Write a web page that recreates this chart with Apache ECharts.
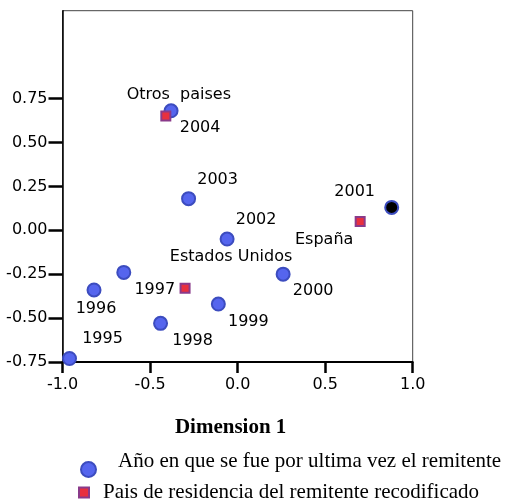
<!DOCTYPE html>
<html>
<head>
<meta charset="utf-8">
<script src="https://cdn.jsdelivr.net/npm/echarts@6/dist/echarts.min.js"></script>
<style>html,body{margin:0;padding:0;background:#fff}#c{width:514px;height:503px}</style>
</head>
<body>
<div id="c"></div>
<script>
// ---- data ----
const yearNames = ['1995','1996','1997','1998','1999','2000','2001','2002','2003','2004'];
const yearDim1  = [-0.96, -0.82, -0.65, -0.44, -0.11, 0.26, 0.88, -0.06, -0.28, -0.38];
const yearDim2  = [-0.73, -0.34, -0.24, -0.53, -0.42, -0.25, 0.13, -0.05, 0.18, 0.68];
const countryNames = ['Otros  paises', 'Estados Unidos', 'España'];
const countryDim1  = [-0.41, -0.30, 0.70];
const countryDim2  = [0.65, -0.33, 0.05];
const xTicks = [-1.0, -0.5, 0.0, 0.5, 1.0];
const yTicks = [-0.75, -0.50, -0.25, 0.00, 0.25, 0.50, 0.75];
const seriesNames = ['Año en que se fue por ultima vez el remitente', 'Pais de residencia del remitente recodificado'];
const highlightedYear = '2001';

// label placement (pixel offsets from the mark), separate from data
const yearLabelOffset = {
  '1995': [33, -20], '1996': [2, 19], '1997': [31, 17], '1998': [32, 17], '1999': [30, 18],
  '2000': [30, 17], '2001': [-37, -16], '2002': [29, -19], '2003': [29, -19], '2004': [29, 17]
};
const countryLabelOffset = {
  'Otros  paises': [13, -21], 'Estados Unidos': [46, -31], 'España': [-36, 18]
};

const labelFont = { fontFamily: 'DejaVu Sans', fontSize: 16, color: '#000' };

const yearData = yearNames.map((n, i) => {
  const d = {
    name: n, value: [yearDim1[i], yearDim2[i]],
    label: Object.assign({ show: true, position: 'inside', formatter: n, offset: yearLabelOffset[n] }, labelFont)
  };
  if (n === highlightedYear) d.itemStyle = { color: '#000' };
  return d;
});
const countryData = countryNames.map((n, i) => ({
  name: n, value: [countryDim1[i], countryDim2[i]],
  label: Object.assign({ show: true, position: 'inside', formatter: n, offset: countryLabelOffset[n] }, labelFont)
}));

const chart = echarts.init(document.getElementById('c'), null, { renderer: 'canvas' });
chart.setOption({
  animation: false,
  backgroundColor: '#fff',
  grid: { left: 62.5, right: 101.3, top: 10.7, bottom: 141, show: true, borderColor: '#444', borderWidth: 1, backgroundColor: 'transparent' },
  xAxis: {
    type: 'value', min: -1, max: 1, interval: 0.5,
    axisLine: { show: true, onZero: false, lineStyle: { color: '#000', width: 2 } },
    axisTick: { show: true, length: 11, lineStyle: { color: '#000', width: 2.5 }, customValues: xTicks },
    axisLabel: { margin: 15, fontFamily: 'DejaVu Sans', fontSize: 16, color: '#000', customValues: xTicks, formatter: v => v.toFixed(1) },
    splitLine: { show: false },
    name: 'Dimension 1', nameLocation: 'middle', nameGap: 55,
    nameTextStyle: { fontFamily: 'Liberation Serif', fontWeight: 'bold', fontSize: 21, color: '#000', padding: [0, 14, 0, 0] }
  },
  yAxis: {
    type: 'value', min: -0.75, max: 1.25, interval: 0.25,
    axisLine: { show: true, onZero: false, lineStyle: { color: '#000', width: 1.5 } },
    axisTick: { show: true, length: 14, lineStyle: { color: '#000', width: 2.5 }, customValues: yTicks },
    axisLabel: { margin: 15, fontFamily: 'DejaVu Sans', fontSize: 16, color: '#000', customValues: yTicks, formatter: v => v.toFixed(2) },
    splitLine: { show: false }
  },
  legend: [
    {
      data: [{ name: seriesNames[0], icon: 'circle' }],
      left: 80, top: 451, itemWidth: 15, itemHeight: 15, orient: 'vertical',
      selectedMode: false, padding: 0,
      formatter: n => '{t|' + n + '}',
      textStyle: {
        color: '#000',
        rich: { t: { fontFamily: 'Liberation Serif', fontSize: 21, color: '#000', padding: [0, 0, 16, 17] } }
      }
    },
    {
      data: [{ name: seriesNames[1], icon: 'rect' }],
      left: 78, top: 482, itemWidth: 10, itemHeight: 10, orient: 'vertical',
      selectedMode: false, padding: 0,
      formatter: n => '{t|' + n + '}',
      textStyle: {
        color: '#000',
        rich: { t: { fontFamily: 'Liberation Serif', fontSize: 21, color: '#000', padding: [0, 0, 0, 9] } }
      }
    }
  ],
  series: [
    {
      name: seriesNames[0], type: 'scatter', symbol: 'circle', symbolSize: 13,
      itemStyle: { color: '#5565ee', borderColor: '#3c4cbf', borderWidth: 2, opacity: 1 },
      data: yearData, z: 2
    },
    {
      name: seriesNames[1], type: 'scatter', symbol: 'rect', symbolSize: 9,
      itemStyle: { color: '#e8303e', borderColor: '#8a3a8a', borderWidth: 2, opacity: 1 },
      data: countryData, z: 3
    }
  ]
});
</script>
</body>
</html>
